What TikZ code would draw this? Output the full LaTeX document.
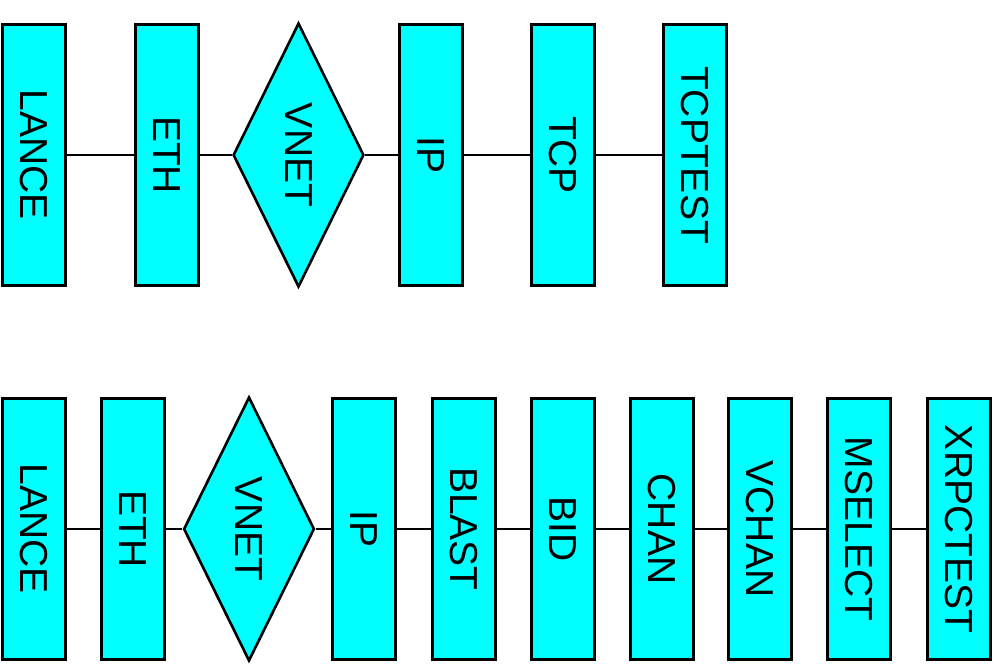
\documentclass[tikz,border=0pt]{standalone}
\usepackage{fontspec}
\setmainfont{Liberation Sans}
\usetikzlibrary{shapes.geometric}
\definecolor{layercyan}{RGB}{0,255,255}
\tikzset{
  layerbox/.style={draw=black, fill=layercyan, line width=2.6pt, rectangle,
    minimum width=63pt, minimum height=261pt, inner sep=0pt, font=\fontsize{39}{42}\selectfont},
  layerdiamond/.style={draw=black, fill=layercyan, line width=2.6pt, diamond,
    minimum width=130pt, minimum height=264pt, inner sep=0pt, font=\fontsize{39}{42}\selectfont},
  link/.style={draw=black, line width=1.2pt}
}
\newcommand{\vtext}[1]{\rotatebox{-90}{#1}}
\begin{document}
\begin{tikzpicture}[x=1pt, y=-1pt]
  \useasboundingbox (0,0) rectangle (997,664);
  % TCP test stack
  \node[layerbox] (tl) at (34,155) {\vtext{LANCE}};
  \node[layerbox] (te) at (167,155) {\vtext{ETH}};
  \node[layerdiamond] (tv) at (298.5,155) {\vtext{VNET}};
  \node[layerbox] (ti) at (431,155) {\vtext{IP}};
  \node[layerbox] (tt) at (563,155) {\vtext{TCP}};
  \node[layerbox] (tx) at (695,155) {\vtext{TCPTEST}};
  \path[link] (tl.east) -- (te.west);
  \path[link] (te.east) -- (tv.west);
  \path[link] (tv.east) -- (ti.west);
  \path[link] (ti.east) -- (tt.west);
  \path[link] (tt.east) -- (tx.west);
  % XRPC test stack
  \node[layerbox] (bl) at (34,529) {\vtext{LANCE}};
  \node[layerbox] (be) at (133,529) {\vtext{ETH}};
  \node[layerdiamond] (bv) at (249,529) {\vtext{VNET}};
  \node[layerbox] (bi) at (364,529) {\vtext{IP}};
  \node[layerbox] (bb) at (464,529) {\vtext{BLAST}};
  \node[layerbox] (bd) at (563,529) {\vtext{BID}};
  \node[layerbox] (bc) at (662,529) {\vtext{CHAN}};
  \node[layerbox] (bw) at (760,529) {\vtext{VCHAN}};
  \node[layerbox] (bm) at (859,529) {\vtext{MSELECT}};
  \node[layerbox] (bx) at (959,529) {\vtext{XRPCTEST}};
  \path[link] (bl.east) -- (be.west);
  \path[link] (be.east) -- (bv.west);
  \path[link] (bv.east) -- (bi.west);
  \path[link] (bi.east) -- (bb.west);
  \path[link] (bb.east) -- (bd.west);
  \path[link] (bd.east) -- (bc.west);
  \path[link] (bc.east) -- (bw.west);
  \path[link] (bw.east) -- (bm.west);
  \path[link] (bm.east) -- (bx.west);
\end{tikzpicture}
\end{document}
